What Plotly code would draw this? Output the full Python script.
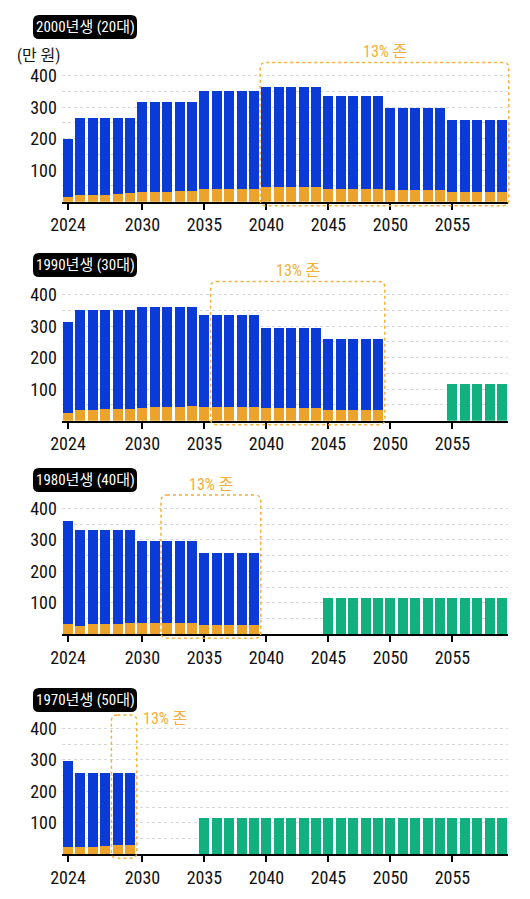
import plotly.graph_objects as go

# ---------------- data ----------------
years = list(range(2024, 2060))

panel_titles = ["2000년생 (20대)", "1990년생 (30대)", "1980년생 (40대)", "1970년생 (50대)"]

# stack totals (orange + blue), 만 원
total_2000 = [200, 265, 265, 265, 265, 265, 315, 315, 315, 315, 315, 353, 353, 353, 353, 353,
              363, 363, 363, 363, 363, 334, 334, 334, 334, 334, 297, 297, 297, 297, 297,
              259, 259, 259, 259, 259]
orange_2000 = [16, 21, 21, 21, 23, 27, 31, 31, 31, 34, 34, 39, 39, 39, 41, 41,
               48, 48, 48, 48, 48, 41, 41, 41, 41, 41, 38, 38, 38, 38, 38,
               32, 32, 32, 32, 32]
green_2000 = [None] * 36

total_1990 = [313, 350, 350, 350, 350, 350, 361, 361, 361, 361, 361, 334, 334, 334, 334, 334,
              295, 295, 295, 295, 295, 259, 259, 259, 259, 259] + [None] * 10
orange_1990 = [26, 34, 34, 36, 36, 36, 39, 42, 42, 42, 46, 42, 42, 42, 42, 42,
               41, 41, 41, 41, 41, 33, 33, 33, 33, 33] + [None] * 10
green_1990 = [None] * 31 + [115, 115, 115, 115, 115]

total_1980 = [361, 332, 332, 332, 332, 332, 295, 295, 295, 295, 295, 258, 258, 258, 258, 258] + [None] * 20
orange_1980 = [32, 27, 32, 32, 34, 36, 35, 35, 36, 36, 36, 30, 30, 30, 30, 30] + [None] * 20
green_1980 = [None] * 21 + [115] * 15

total_1970 = [296, 259, 259, 259, 259, 259] + [None] * 30
orange_1970 = [24, 22, 23, 27, 29, 30] + [None] * 30
green_1970 = [None] * 11 + [115] * 25

totals = [total_2000, total_1990, total_1980, total_1970]
oranges = [orange_2000, orange_1990, orange_1980, orange_1970]
greens = [green_2000, green_1990, green_1980, green_1970]

# 13% zone (first and last year inside the box)
zone_start = [2040, 2036, 2032, 2028]
zone_end = [2059, 2049, 2039, 2029]
zone_label = "13% 존"

x_tickvals = [2024, 2030, 2035, 2040, 2045, 2050, 2055]
y_tickvals = [50, 100, 150, 200, 250, 300, 350, 400]
y_ticktext = ["", "100", "", "200", "", "300", "", "400"]

# ---------------- styling / layout ----------------
W, H = 530, 899
BLUE = "#0b3bd6"
ORANGE = "#eba32c"
GREEN = "#13b07f"
ZONE = "#f0b03a"
NARROW = "Roboto Condensed, Liberation Sans Narrow, Roboto, sans-serif"
KR = "Roboto Condensed, Liberation Sans Narrow, Noto Sans CJK KR, sans-serif"

X0_PX, X1_PX = 61.8, 508.2
XR = [2023.5, 2059.5]
YMAX = 430
PX_PER_UNIT = 126.0 / 400
baselines = [201.7, 420.7, 634.3, 854.3]
badge_tops = [15, 253, 468, 688]


def xpx(v):
    return X0_PX + (v - XR[0]) / (XR[1] - XR[0]) * (X1_PX - X0_PX)


def ypx(i, v):
    return baselines[i] - v * PX_PER_UNIT


def X(p):
    return p / W


def Y(p):
    return 1 - p / H


def rr_path(x0, y0, x1, y1, r):
    return (f"M {X(x0 + r)},{Y(y0)} L {X(x1 - r)},{Y(y0)} Q {X(x1)},{Y(y0)} {X(x1)},{Y(y0 + r)} "
            f"L {X(x1)},{Y(y1 - r)} Q {X(x1)},{Y(y1)} {X(x1 - r)},{Y(y1)} "
            f"L {X(x0 + r)},{Y(y1)} Q {X(x0)},{Y(y1)} {X(x0)},{Y(y1 - r)} "
            f"L {X(x0)},{Y(y0 + r)} Q {X(x0)},{Y(y0)} {X(x0 + r)},{Y(y0)} Z")


fig = go.Figure()
layout = dict(
    width=W, height=H, margin=dict(l=0, r=0, t=0, b=0, autoexpand=False),
    paper_bgcolor="white", plot_bgcolor="white",
    barmode="stack", bargap=0.19, showlegend=False,
    shapes=[], annotations=[],
)

for i in range(4):
    sfx = "" if i == 0 else str(i + 1)
    xa, ya = "x" + sfx, "y" + sfx
    blue = [None if t is None else t - o for t, o in zip(totals[i], oranges[i])]
    fig.add_trace(go.Bar(x=years, y=oranges[i], marker=dict(color=ORANGE, line=dict(width=0)),
                         xaxis=xa, yaxis=ya, name="orange"))
    fig.add_trace(go.Bar(x=years, y=blue, marker=dict(color=BLUE, line=dict(width=0)),
                         xaxis=xa, yaxis=ya, name="blue"))
    fig.add_trace(go.Bar(x=years, y=greens[i], marker=dict(color=GREEN, line=dict(width=0)),
                         xaxis=xa, yaxis=ya, name="green"))

    base = baselines[i]
    ydom = [Y(base), Y(base - YMAX * PX_PER_UNIT)]
    layout["xaxis" + sfx] = dict(
        domain=[X(X0_PX), X(X1_PX)], range=XR, anchor=ya, automargin=False,
        tickvals=x_tickvals, ticks="outside", ticklen=6, tickwidth=2, tickcolor="black",
        showline=True, linecolor="black", linewidth=2, showgrid=False, zeroline=False,
        tickfont=dict(family=NARROW, size=18, color="#111"),
    )
    layout["yaxis" + sfx] = dict(
        domain=ydom, range=[0, YMAX], anchor=xa, automargin=False,
        tickvals=y_tickvals, ticktext=y_ticktext, ticks="",
        showgrid=True, gridcolor="#d8d8d8", griddash="dot", gridwidth=1,
        showline=False, zeroline=False, ticklabelstandoff=4,
        tickfont=dict(family=NARROW, size=18, color="#111"),
    )

    # title badge
    bt = badge_tops[i]
    layout["shapes"].append(dict(type="path", xref="paper", yref="paper",
                                 path=rr_path(33, bt, 137, bt + 24, 6),
                                 fillcolor="black", line=dict(width=0), layer="above"))
    layout["annotations"].append(dict(text=panel_titles[i], xref="paper", yref="paper",
                                      x=X(85), y=Y(bt + 12), xanchor="center", yanchor="middle",
                                      showarrow=False, font=dict(family=KR, size=15, color="white")))

    # 13% zone box
    bx0 = xpx(zone_start[i] - 0.5)
    bx1 = xpx(zone_end[i] + 0.55)
    by0 = ypx(i, 442)
    by1 = base + 4
    layout["shapes"].append(dict(type="path", xref="paper", yref="paper",
                                 path=rr_path(bx0, by0, bx1, by1, 6),
                                 line=dict(color=ZONE, width=1.5, dash="dot"), layer="above"))
    if i < 3:
        layout["annotations"].append(dict(text=zone_label, xref="paper", yref="paper",
                                          x=X((bx0 + bx1) / 2), y=Y(by0 - 11),
                                          xanchor="center", yanchor="middle", showarrow=False,
                                          font=dict(family=KR, size=16, color=ZONE)))
    else:
        layout["annotations"].append(dict(text=zone_label, xref="paper", yref="paper",
                                          x=X(bx1 + 4), y=Y(by0 + 3),
                                          xanchor="left", yanchor="middle", showarrow=False,
                                          font=dict(family=KR, size=16, color=ZONE)))

layout["annotations"].append(dict(text="(만 원)", xref="paper", yref="paper",
                                  x=X(38), y=Y(56), xanchor="center", yanchor="middle",
                                  showarrow=False, font=dict(family=KR, size=16, color="#111")))

fig.update_layout(**layout)
fig.write_html("out.html", config={"displayModeBar": False},
               post_script="document.body.style.margin='0';document.body.style.overflow='hidden';")
